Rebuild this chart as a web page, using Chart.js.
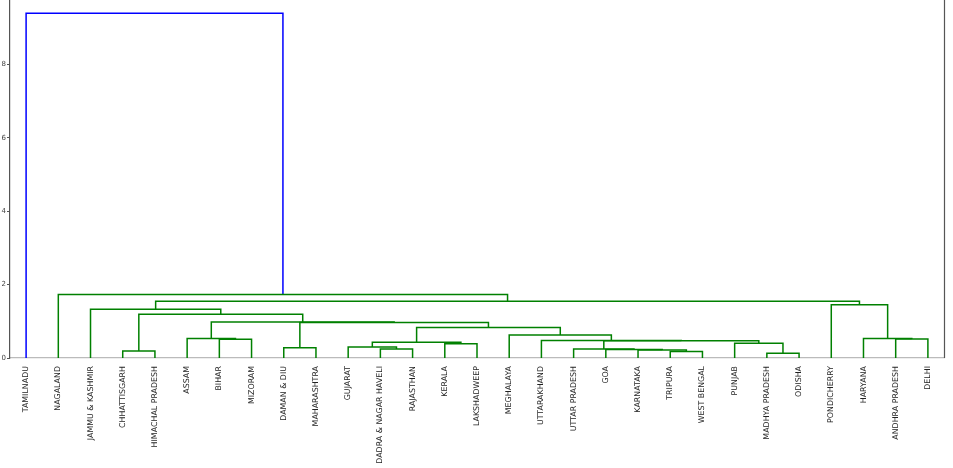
<!DOCTYPE html>
<html>
<head>
<meta charset="utf-8">
<script src="https://cdn.jsdelivr.net/npm/chart.js@4.4.1/dist/chart.umd.min.js"></script>
<style>
  html, body { margin: 0; padding: 0; background: #fff; }
  #wrap { width: 953px; height: 468px; }
</style>
</head>
<body>
<div id="wrap"><canvas id="c" width="953" height="468"></canvas></div>
<script>
// Leaves in dendrogram order
const leaves = [
  "TAMILNADU", "NAGALAND", "JAMMU & KASHMIR", "CHHATTISGARH", "HIMACHAL PRADESH",
  "ASSAM", "BIHAR", "MIZORAM", "DAMAN & DIU", "MAHARASHTRA",
  "GUJARAT", "DADRA & NAGAR HAVELI", "RAJASTHAN", "KERALA", "LAKSHADWEEP",
  "MEGHALAYA", "UTTARAKHAND", "UTTAR PRADESH", "GOA", "KARNATAKA",
  "TRIPURA", "WEST BENGAL", "PUNJAB", "MADHYA PRADESH", "ODISHA",
  "PONDICHERRY", "HARYANA", "ANDHRA PRADESH", "DELHI"
];
// Linkage: each merge joins a left and right member (leaf name or merge id) at a height
const mergeIds     = ["a","b","c","d","e","f","g","h","i","j","k","l","m","n","o","p","q","r","s","t","u","v","w","x","y","z","aa","bb"];
const mergeLeft    = ["MADHYA PRADESH","TRIPURA","CHHATTISGARH","KARNATAKA","GOA","UTTAR PRADESH","DADRA & NAGAR HAVELI","DAMAN & DIU","GUJARAT","KERALA","PUNJAB","i","BIHAR","ANDHRA PRADESH","ASSAM","HARYANA","f","UTTARAKHAND","MEGHALAYA","l","h","o","c","JAMMU & KASHMIR","PONDICHERRY","x","NAGALAND","TAMILNADU"];
const mergeRight   = ["ODISHA","WEST BENGAL","HIMACHAL PRADESH","b","d","e","RAJASTHAN","MAHARASHTRA","g","LAKSHADWEEP","a","j","MIZORAM","DELHI","m","n","k","q","r","s","t","u","v","w","p","y","z","aa"];
const mergeHeights = [0.13,0.18,0.19,0.215,0.235,0.245,0.245,0.28,0.30,0.39,0.40,0.43,0.51,0.515,0.535,0.535,0.47,0.48,0.625,0.83,0.97,0.98,1.19,1.33,1.45,1.55,1.73,9.40];
const yTicks = [0, 2, 4, 6, 8];

const colorThreshold = 0.7 * Math.max(...mergeHeights);
const aboveColor = "#0000ff";
const belowColor = "#008000";

// Position of members (scipy convention: leaf i at 5 + 10*i)
const pos = {};
leaves.forEach((n, i) => { pos[n] = { x: 5 + 10 * i, h: 0 }; });
const datasets = [];
mergeIds.forEach((id, k) => {
  const L = pos[mergeLeft[k]], R = pos[mergeRight[k]], h = mergeHeights[k];
  pos[id] = { x: (L.x + R.x) / 2, h: h };
  datasets.push({
    data: [{x: L.x, y: L.h}, {x: L.x, y: h}, {x: R.x, y: h}, {x: R.x, y: R.h}],
    borderColor: h > colorThreshold ? aboveColor : belowColor,
    borderWidth: 1.5,
    pointRadius: 0,
    tension: 0,
    fill: false
  });
});

const rightSpine = {
  id: 'rightSpine',
  afterDraw(chart) {
    const {ctx, chartArea} = chart;
    ctx.save();
    ctx.strokeStyle = '#555';
    ctx.lineWidth = 1.2;
    ctx.beginPath();
    ctx.moveTo(chartArea.right + 0.5, chartArea.top);
    ctx.lineTo(chartArea.right + 0.5, chartArea.bottom);
    ctx.stroke();
    ctx.restore();
  }
};

new Chart(document.getElementById('c'), {
  type: 'line',
  data: { datasets },
  plugins: [rightSpine],
  options: {
    responsive: false,
    animation: false,
    layout: { padding: { left: 0, right: 9, top: 0, bottom: 0 } },
    plugins: { legend: { display: false }, tooltip: { enabled: false } },
    scales: {
      x: {
        type: 'linear',
        min: 0,
        max: leaves.length * 10,
        afterBuildTicks(scale) { scale.ticks = leaves.map((_, i) => ({ value: 5 + 10 * i })); },
        afterFit(scale) { scale.height = 110; scale.paddingLeft = 0; scale.paddingRight = 0; },
        grid: { display: false, drawTicks: false },
        border: { display: true, color: '#bbbbbb', width: 1.2 },
        ticks: {
          autoSkip: false,
          minRotation: 90,
          maxRotation: 90,
          padding: 8,
          color: '#222',
          font: { family: 'DejaVu Sans', size: 7.9 },
          callback: (v, i) => leaves[i]
        }
      },
      y: {
        type: 'linear',
        min: 0,
        max: 9.76,
        afterBuildTicks(scale) { scale.ticks = yTicks.map(v => ({ value: v })); },
        afterFit(scale) { scale.width = 10; scale.paddingTop = 0; scale.paddingBottom = 0; },
        grid: { display: true, drawOnChartArea: false, drawTicks: true, tickLength: 3, color: '#555' },
        border: { display: true, color: '#555', width: 1.2 },
        ticks: {
          padding: 1,
          color: '#444',
          font: { family: 'DejaVu Sans', size: 7 },
          callback: v => String(v)
        }
      }
    }
  }
});
</script>
</body>
</html>
